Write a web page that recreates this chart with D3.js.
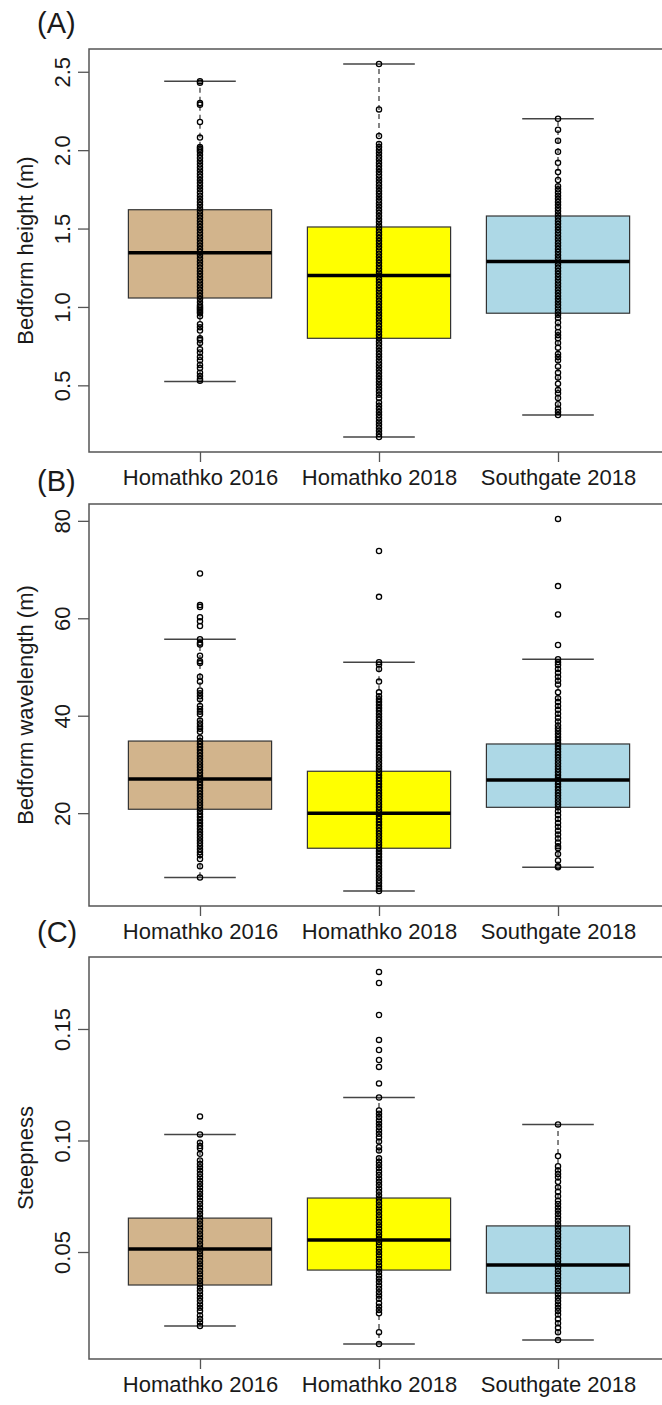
<!DOCTYPE html>
<html>
<head>
<meta charset="utf-8">
<script src="https://cdn.jsdelivr.net/npm/d3@7"></script>
<style>
  body { margin: 0; background: #fff; }
  text { font-family: "Liberation Sans", Arial, sans-serif; fill: #1a1a1a; }
</style>
</head>
<body>
<svg id="chart"></svg>
<script>
const width = 662;
const height = 1405;

// sites on the x axis
const groups = ["Homathko 2016", "Homathko 2018", "Southgate 2018"];
const boxColors = ["#D2B48C", "#FFFF00", "#ADD8E6"];

// five-number summaries per site: [lower whisker, Q1, median, Q3, upper whisker]
const heightStats = [
    [0.525, 1.057, 1.345, 1.62, 2.44],
    [0.17, 0.80, 1.20, 1.51, 2.55],
    [0.31, 0.96, 1.29, 1.58, 2.20]
];
const wavelengthStats = [
    [6.8, 20.8, 27.0, 34.8, 55.7],
    [4.0, 12.8, 20.0, 28.6, 51.0],
    [8.9, 21.2, 26.8, 34.2, 51.6]
];
const steepnessStats = [
    [0.0168, 0.0352, 0.0513, 0.0652, 0.1027],
    [0.0087, 0.0419, 0.0554, 0.0742, 0.1193],
    [0.0105, 0.0316, 0.0442, 0.0617, 0.1072]
];

const heightPoints = [
    [2.44, 2.43, 2.30, 2.29, 2.18, 2.08, 2.02, 2.01, 2.00, 1.99, 1.97, 1.95, 1.93, 1.91, 1.89, 1.87, 1.85, 1.83, 1.81, 1.79, 1.77, 1.75, 1.73, 1.71, 1.69, 1.67, 1.65, 1.63, 1.61, 1.59, 1.57, 1.55, 1.53, 1.51, 1.49, 1.47, 1.45, 1.43, 1.41, 1.39, 1.37, 1.35, 1.33, 1.31, 1.29, 1.27, 1.25, 1.23, 1.21, 1.19, 1.17, 1.15, 1.13, 1.11, 1.09, 1.07, 1.05, 1.03, 1.01, 1.00, 0.99, 0.98, 0.97, 0.96, 0.94, 0.89, 0.87, 0.85, 0.80, 0.79, 0.77, 0.73, 0.71, 0.68, 0.66, 0.63, 0.61, 0.58, 0.56, 0.54, 0.53],
    [2.55, 2.26, 2.09, 2.04, 2.02, 2.00, 1.98, 1.96, 1.94, 1.92, 1.90, 1.88, 1.86, 1.84, 1.82, 1.80, 1.78, 1.76, 1.74, 1.72, 1.70, 1.68, 1.66, 1.64, 1.62, 1.60, 1.58, 1.56, 1.54, 1.52, 1.50, 1.48, 1.46, 1.44, 1.42, 1.40, 1.38, 1.36, 1.34, 1.32, 1.30, 1.28, 1.26, 1.24, 1.22, 1.20, 1.18, 1.16, 1.14, 1.12, 1.10, 1.08, 1.06, 1.04, 1.02, 1.00, 0.98, 0.96, 0.94, 0.92, 0.90, 0.88, 0.86, 0.84, 0.82, 0.80, 0.78, 0.76, 0.74, 0.72, 0.70, 0.68, 0.66, 0.64, 0.62, 0.60, 0.58, 0.56, 0.54, 0.52, 0.50, 0.48, 0.46, 0.44, 0.42, 0.39, 0.37, 0.35, 0.33, 0.31, 0.29, 0.27, 0.25, 0.23, 0.21, 0.19, 0.17],
    [2.20, 2.13, 2.06, 1.99, 1.92, 1.86, 1.81, 1.77, 1.75, 1.73, 1.71, 1.69, 1.67, 1.65, 1.63, 1.61, 1.59, 1.57, 1.55, 1.53, 1.51, 1.49, 1.47, 1.45, 1.43, 1.41, 1.39, 1.37, 1.35, 1.33, 1.31, 1.29, 1.27, 1.25, 1.23, 1.21, 1.19, 1.17, 1.15, 1.13, 1.11, 1.09, 1.07, 1.05, 1.03, 1.01, 0.99, 0.97, 0.95, 0.93, 0.90, 0.87, 0.84, 0.82, 0.80, 0.77, 0.74, 0.70, 0.68, 0.66, 0.62, 0.58, 0.55, 0.51, 0.47, 0.45, 0.42, 0.38, 0.35, 0.33, 0.31]
];
const wavelengthPoints = [
    [69.2, 62.7, 62.3, 60.2, 59.4, 58.4, 55.7, 55.0, 54.6, 52.3, 51.2, 50.8, 48.0, 47.0, 45.2, 44.6, 44.0, 43.4, 42.0, 41.4, 40.8, 40.3, 39.0, 38.4, 37.8, 37.3, 36.7, 35.5, 34.8, 34.2, 33.6, 33.0, 32.4, 31.8, 31.2, 30.6, 30.0, 29.4, 28.8, 28.2, 27.6, 27.0, 26.4, 25.8, 25.2, 24.6, 24.0, 23.4, 22.8, 22.2, 21.6, 21.0, 20.4, 19.8, 19.2, 18.6, 18.0, 17.4, 16.8, 16.2, 15.6, 15.0, 14.4, 13.8, 13.2, 12.6, 12.0, 11.4, 10.6, 9.1, 6.8],
    [73.8, 64.4, 51.0, 50.5, 49.6, 47.0, 44.8, 44.0, 43.4, 42.8, 42.2, 41.6, 41.0, 40.4, 39.8, 39.2, 38.6, 38.0, 37.4, 36.8, 36.2, 35.6, 35.0, 34.4, 33.8, 33.2, 32.6, 32.0, 31.4, 30.8, 30.2, 29.6, 29.0, 28.4, 27.8, 27.2, 26.6, 26.0, 25.4, 24.8, 24.2, 23.6, 23.0, 22.4, 21.8, 21.2, 20.6, 20.0, 19.4, 18.8, 18.2, 17.6, 17.0, 16.4, 15.8, 15.2, 14.6, 14.0, 13.4, 12.8, 12.2, 11.6, 11.0, 10.4, 9.8, 9.2, 8.6, 8.0, 7.4, 6.8, 6.2, 5.6, 5.0, 4.5, 4.0],
    [80.4, 66.6, 60.8, 54.5, 51.6, 51.0, 50.4, 49.6, 48.8, 48.0, 47.2, 46.4, 44.8, 43.6, 42.8, 42.0, 41.2, 40.4, 39.6, 38.8, 38.0, 37.4, 36.8, 36.2, 35.6, 35.0, 34.4, 33.8, 33.2, 32.6, 32.0, 31.4, 30.8, 30.2, 29.6, 29.0, 28.4, 27.8, 27.2, 26.6, 26.0, 25.4, 24.8, 24.2, 23.6, 23.0, 22.4, 21.8, 21.2, 20.4, 19.6, 18.8, 18.0, 17.2, 16.4, 15.6, 14.8, 14.0, 13.2, 12.8, 11.6, 10.3, 9.1, 8.9]
];
const steepnessPoints = [
    [0.1108, 0.1027, 0.0990, 0.0975, 0.0965, 0.0940, 0.0910, 0.0895, 0.0880, 0.0865, 0.0850, 0.0835, 0.0820, 0.0805, 0.0790, 0.0775, 0.0760, 0.0745, 0.0730, 0.0715, 0.0700, 0.0685, 0.0670, 0.0655, 0.0640, 0.0625, 0.0610, 0.0595, 0.0580, 0.0565, 0.0550, 0.0535, 0.0520, 0.0505, 0.0490, 0.0475, 0.0460, 0.0445, 0.0430, 0.0415, 0.0400, 0.0385, 0.0370, 0.0355, 0.0340, 0.0325, 0.0310, 0.0295, 0.0280, 0.0265, 0.0250, 0.0235, 0.0215, 0.0200, 0.0185, 0.0168],
    [0.1756, 0.1706, 0.1563, 0.1451, 0.1406, 0.1361, 0.1330, 0.1256, 0.1193, 0.1135, 0.1120, 0.1105, 0.1090, 0.1075, 0.1060, 0.1045, 0.1030, 0.1015, 0.0995, 0.0970, 0.0955, 0.0920, 0.0905, 0.0890, 0.0875, 0.0860, 0.0845, 0.0830, 0.0815, 0.0800, 0.0785, 0.0770, 0.0755, 0.0740, 0.0725, 0.0710, 0.0695, 0.0680, 0.0665, 0.0650, 0.0635, 0.0620, 0.0605, 0.0590, 0.0575, 0.0560, 0.0545, 0.0530, 0.0515, 0.0500, 0.0485, 0.0470, 0.0455, 0.0440, 0.0425, 0.0410, 0.0395, 0.0380, 0.0365, 0.0350, 0.0335, 0.0320, 0.0305, 0.0290, 0.0270, 0.0255, 0.0240, 0.0225, 0.0140, 0.0087],
    [0.1072, 0.0930, 0.0885, 0.0865, 0.0850, 0.0835, 0.0815, 0.0790, 0.0770, 0.0750, 0.0730, 0.0715, 0.0700, 0.0685, 0.0670, 0.0655, 0.0640, 0.0625, 0.0610, 0.0595, 0.0580, 0.0565, 0.0550, 0.0535, 0.0520, 0.0505, 0.0490, 0.0475, 0.0460, 0.0445, 0.0430, 0.0415, 0.0400, 0.0385, 0.0370, 0.0355, 0.0340, 0.0325, 0.0310, 0.0295, 0.0280, 0.0265, 0.0250, 0.0235, 0.0220, 0.0200, 0.0180, 0.0160, 0.0140, 0.0105]
];

// y tick labels
const heightTicks = [0.5, 1.0, 1.5, 2.0, 2.5];
const wavelengthTicks = [20, 40, 60, 80];
const steepnessTicks = [0.05, 0.10, 0.15];

const panels = [
    { tag: "(A)", title: "Bedform height (m)", stats: heightStats, points: heightPoints,
      ticks: heightTicks, fmt: d3.format(".1f"), top: 49, bottom: 452, tagY: 33 },
    { tag: "(B)", title: "Bedform wavelength (m)", stats: wavelengthStats, points: wavelengthPoints,
      ticks: wavelengthTicks, fmt: d3.format("d"), top: 504, bottom: 906, tagY: 491 },
    { tag: "(C)", title: "Steepness", stats: steepnessStats, points: steepnessPoints,
      ticks: steepnessTicks, fmt: d3.format(".2f"), top: 957, bottom: 1359, tagY: 942 }
];

const svg = d3.select("#chart")
    .attr("width", width)
    .attr("height", height);

svg.append("rect").attr("width", width).attr("height", height).attr("fill", "#fff");

// R-style x range: 0.5..3.5 widened by 4%
const x = d3.scaleLinear().domain([0.38, 3.62]).range([89, 669]);
const boxHalf = 0.4;
const capHalf = 0.2;

panels.forEach(p => {
    // y domain = data range widened by 4% on each side (R default)
    const all = p.points.flat().concat(p.stats.flat());
    const [lo, hi] = d3.extent(all);
    const pad = (hi - lo) * 0.04;
    const y = d3.scaleLinear().domain([lo - pad, hi + pad]).range([p.bottom, p.top]);

    const g = svg.append("g");

    // boxes
    p.stats.forEach((s, i) => {
        const cx = x(i + 1);
        const bx = g.append("g");
        // whiskers (dashed)
        bx.append("line")
            .attr("x1", cx).attr("x2", cx)
            .attr("y1", y(s[3])).attr("y2", y(s[4]))
            .attr("stroke", "#333").attr("stroke-width", 1.2)
            .attr("stroke-dasharray", "5,4");
        bx.append("line")
            .attr("x1", cx).attr("x2", cx)
            .attr("y1", y(s[1])).attr("y2", y(s[0]))
            .attr("stroke", "#333").attr("stroke-width", 1.2)
            .attr("stroke-dasharray", "5,4");
        // staples
        [s[0], s[4]].forEach(v => {
            bx.append("line")
                .attr("x1", x(i + 1 - capHalf)).attr("x2", x(i + 1 + capHalf))
                .attr("y1", y(v)).attr("y2", y(v))
                .attr("stroke", "#444").attr("stroke-width", 1.5);
        });
        // box
        bx.append("rect")
            .attr("x", x(i + 1 - boxHalf))
            .attr("width", x(i + 1 + boxHalf) - x(i + 1 - boxHalf))
            .attr("y", y(s[3]))
            .attr("height", y(s[1]) - y(s[3]))
            .attr("fill", boxColors[i])
            .attr("stroke", "#333").attr("stroke-width", 1.2);
        // median
        bx.append("line")
            .attr("x1", x(i + 1 - boxHalf)).attr("x2", x(i + 1 + boxHalf))
            .attr("y1", y(s[2])).attr("y2", y(s[2]))
            .attr("stroke", "#000").attr("stroke-width", 3.5);
    });

    // strip of points over the boxes
    p.points.forEach((vals, i) => {
        g.append("g")
            .selectAll("circle")
            .data(vals)
            .join("circle")
            .attr("cx", x(i + 1))
            .attr("cy", d => y(d))
            .attr("r", 2.6)
            .attr("fill", "none")
            .attr("stroke", "#000")
            .attr("stroke-width", 1.3);
    });

    // frame
    g.append("rect")
        .attr("x", x.range()[0]).attr("y", p.top)
        .attr("width", x.range()[1] - x.range()[0])
        .attr("height", p.bottom - p.top)
        .attr("fill", "none")
        .attr("stroke", "#555").attr("stroke-width", 1.5);

    // y axis with rotated labels
    const ya = g.append("g")
        .attr("transform", `translate(${x.range()[0]},0)`)
        .call(d3.axisLeft(y).tickValues(p.ticks).tickFormat(p.fmt).tickSize(11).tickSizeOuter(0));
    ya.select(".domain").remove();
    ya.selectAll(".tick line").attr("stroke", "#555").attr("stroke-width", 1.3);
    ya.selectAll(".tick text")
        .attr("transform", "rotate(-90)")
        .attr("x", 0).attr("y", -19).attr("dy", 0)
        .attr("text-anchor", "middle")
        .attr("font-size", 22)
        .attr("fill", "#1a1a1a");

    // x axis
    const xa = g.append("g")
        .attr("transform", `translate(0,${p.bottom})`)
        .call(d3.axisBottom(x).tickValues([1, 2, 3]).tickFormat(d => groups[d - 1]).tickSize(10).tickSizeOuter(0));
    xa.select(".domain").remove();
    xa.selectAll(".tick line").attr("stroke", "#555").attr("stroke-width", 1.3);
    xa.selectAll(".tick text")
        .attr("y", 33).attr("dy", 0)
        .attr("font-size", 22)
        .attr("fill", "#1a1a1a");

    // axis title
    g.append("text")
        .attr("transform", `translate(33,${(p.top + p.bottom) / 2}) rotate(-90)`)
        .attr("text-anchor", "middle")
        .attr("font-size", 22)
        .text(p.title);

    // panel tag
    g.append("text")
        .attr("x", 37).attr("y", p.tagY)
        .attr("font-size", 29)
        .attr("fill", "#333")
        .text(p.tag);
});
</script>
</body>
</html>
